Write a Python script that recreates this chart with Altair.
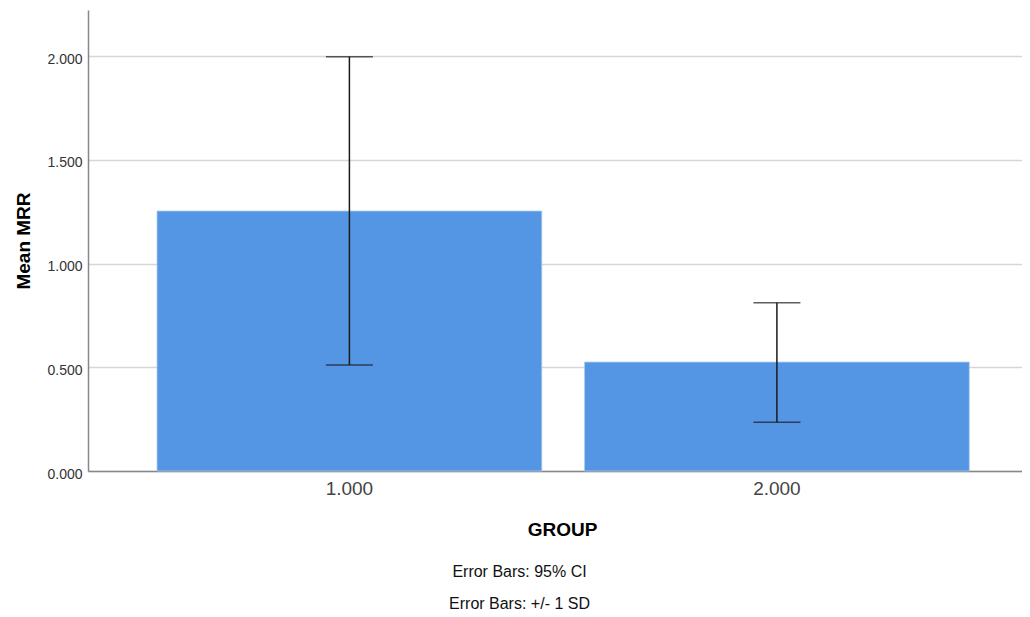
import altair as alt
import pandas as pd

groups = ["1.000", "2.000"]
means = [1.253, 0.525]
ci_low = [0.511, 0.235]
ci_high = [1.997, 0.811]
footnotes = ["Error Bars: 95% CI", "Error Bars:  +/- 1 SD"]

df = pd.DataFrame({"GROUP": groups, "mean": means, "lo": ci_low, "hi": ci_high})
notes = pd.DataFrame({"note": footnotes, "row": [0, 1]})

FONT = "Liberation Sans"

xscale = alt.Scale(paddingInner=0.1, paddingOuter=0.1424, align=0.567)
yscale = alt.Scale(domain=[0, 2.222], nice=False, zero=True)

x = alt.X("GROUP:N", scale=xscale, sort=groups,
          axis=alt.Axis(title="GROUP", labelAngle=0, labelFontSize=19, labelColor="#444444",
                        labelPadding=8, ticks=False, domainColor="#888888", domainWidth=1.5,
                        titleFontSize=19, titleFontWeight="bold", titleColor="#000000",
                        titlePadding=22, titleX=474, labelFont=FONT, titleFont=FONT))

base = alt.Chart(df)

bars = base.mark_bar(color="#5596e4", stroke="#a9c9f0", strokeWidth=0.8).encode(
    x=x,
    y=alt.Y("mean:Q", scale=yscale,
            axis=alt.Axis(title="Mean MRR", values=[0, 0.5, 1.0, 1.5, 2.0], format=".3f",
                          labelFontSize=14, labelColor="#333333", ticks=False, labelPadding=6,
                          labelOffset=3,
                          domainColor="#888888", domainWidth=1.5,
                          gridColor="#d6d6d6", gridWidth=1.5,
                          titleFontSize=19, titleFontWeight="bold", titleColor="#000000",
                          titlePadding=13, labelFont=FONT, titleFont=FONT)),
)

rules = base.mark_rule(color="#1a1a1a", strokeWidth=1.5).encode(
    x=x,
    y=alt.Y("lo:Q", scale=yscale, axis=None),
    y2="hi:Q",
)
cap_lo = base.mark_tick(color="#1a1a1a", size=47, thickness=1.5, orient="horizontal").encode(
    x=x,
    y=alt.Y("lo:Q", scale=yscale, axis=None),
)
cap_hi = base.mark_tick(color="#1a1a1a", size=47, thickness=1.5, orient="horizontal").encode(
    x=x,
    y=alt.Y("hi:Q", scale=yscale, axis=None),
)

note_text = alt.Chart(notes).mark_text(font=FONT, fontSize=16, color="#111111",
                                        align="center", baseline="alphabetic").encode(
    text="note:N",
    x=alt.value(431.5),
    y=alt.Y("row:Q", scale=alt.Scale(domain=[0, 1], range=[567, 599]), axis=None),
)

chart = alt.layer(bars, rules, cap_lo, cap_hi, note_text).resolve_scale(y="independent").properties(
    width=934, height=461,
    background="white",
    autosize=alt.AutoSizeParams(type="none"),
    padding={"left": 80, "top": 2, "right": 0, "bottom": 146},
).configure_view(stroke=None)

chart.save("out.html", embed_options={"renderer": "svg", "actions": False})
